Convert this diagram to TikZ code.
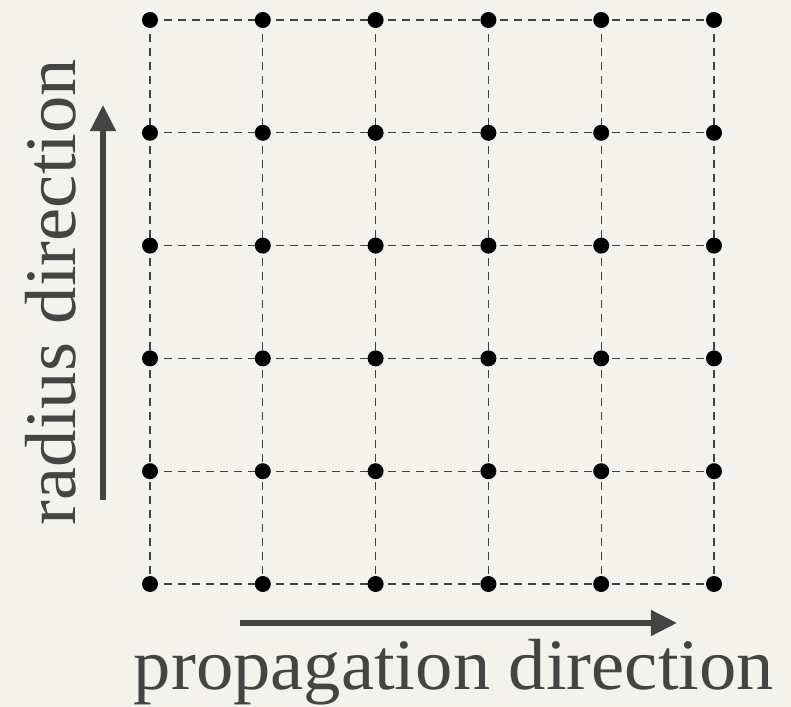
\documentclass[tikz,border=0pt]{standalone}
\usepackage{fontspec}
\setmainfont[FakeStretch=1.03]{Liberation Serif}
\usetikzlibrary{arrows.meta}
\definecolor{paper}{HTML}{F3F2ED}
\definecolor{ink}{HTML}{444444}
\tikzset{
  dot/.style={circle, fill=black, inner sep=0pt, minimum size=0.4cm},
  gridline/.style={dashed, dash pattern=on 0.2cm off 0.15cm, line width=0.03cm, black!75},
  dirarrow/.style={-{Triangle[length=0.65cm,width=0.62cm]}, ink, line width=0.13cm},
  dirlabel/.style={ink, font=\fontsize{51.5}{56}\selectfont, inner sep=0pt}
}
\begin{document}
\begin{tikzpicture}[x=0.025cm, y=-0.025cm]
    \fill[paper] (0,0) rectangle (791,707);
    % lattice
    \foreach \i in {0,...,5}
        \foreach \j in {0,...,5}
            \coordinate (g-\i-\j) at ({150+112.8*\i}, {20+112.8*\j});
    \foreach \i in {0,...,5} {
        \draw[gridline] (g-\i-0) -- (g-\i-5);
        \draw[gridline] (g-0-\i) -- (g-5-\i);
    }
    \foreach \i in {0,...,5}
        \foreach \j in {0,...,5}
            \node[dot] (d-\i-\j) at (g-\i-\j) {};
    % directions
    \coordinate (r0) at (103, 500);
    \coordinate (r1) at (103, 105);
    \draw[dirarrow] (r0) -- (r1);
    \node[dirlabel, rotate=90, anchor=base] (rlabel) at (75, 292) {radius direction};
    \coordinate (q0) at (240, 623);
    \coordinate (q1) at (677, 623);
    \draw[dirarrow] (q0) -- (q1);
    \node[dirlabel, anchor=base] (qlabel) at (454, 690) {propagation direction};
\end{tikzpicture}
\end{document}
